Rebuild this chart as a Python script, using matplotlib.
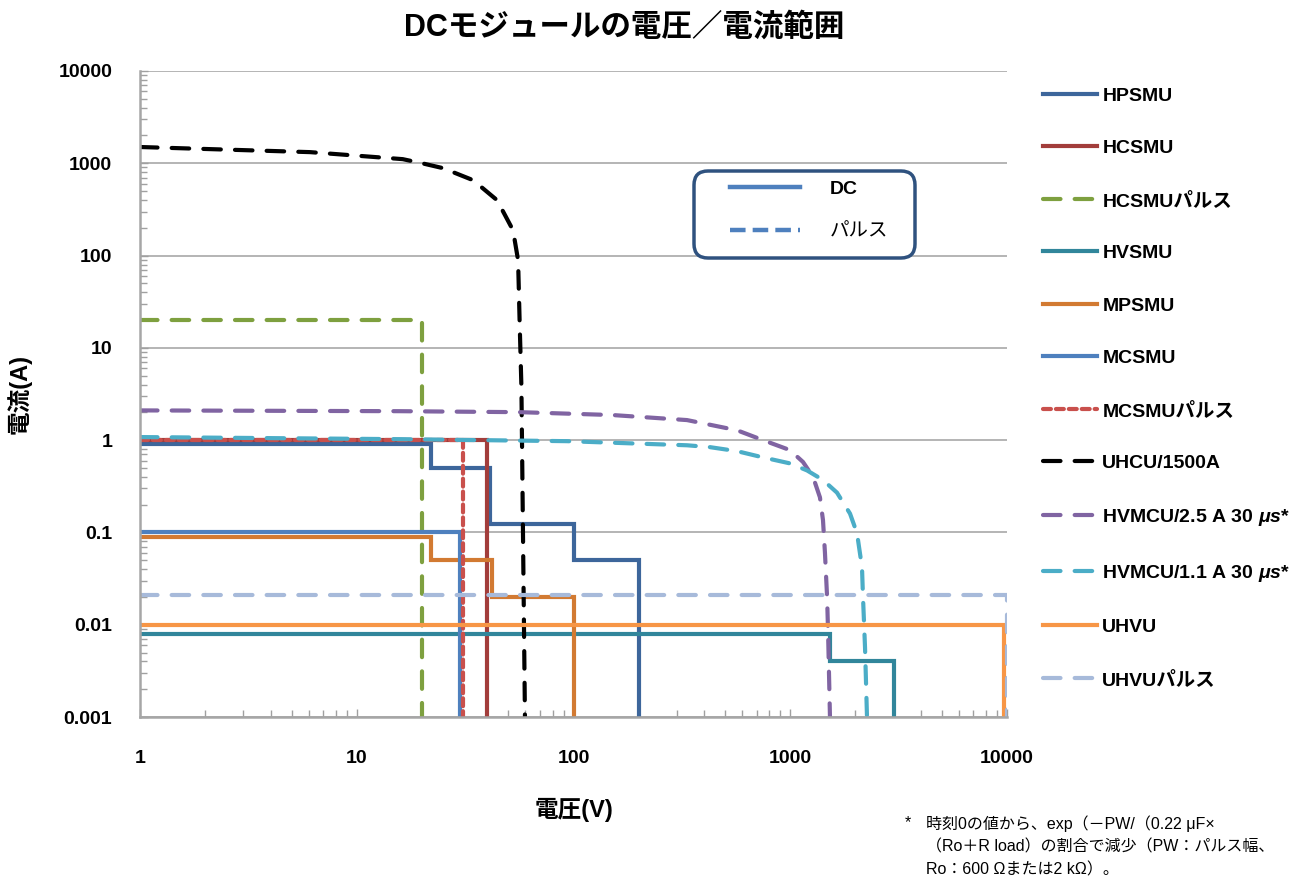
import matplotlib
matplotlib.use("Agg")
import matplotlib.pyplot as plt
from matplotlib.lines import Line2D
from matplotlib.patches import FancyBboxPatch
from matplotlib.transforms import IdentityTransform
from matplotlib.font_manager import FontProperties

FONTS = ['Liberation Sans', 'Noto Sans CJK JP']

plt.rcParams['font.family'] = FONTS
plt.rcParams['mathtext.fontset'] = 'custom'
plt.rcParams['mathtext.it'] = 'Liberation Sans:italic:bold'
plt.rcParams['mathtext.rm'] = 'Liberation Sans:bold'

I_FLOOR = 0.001

# staircase units: voltage break points and current level on each step
hpsmu_v = [1, 22, 41, 101, 200]
hpsmu_i = [0.9, 0.5, 0.125, 0.05]
hcsmu_v = [1, 40]
hcsmu_i = [1.0]
hcsmu_pulse_v = [1, 20]
hcsmu_pulse_i = [20]
hvsmu_v = [1, 1530, 3000]
hvsmu_i = [0.008, 0.004]
mpsmu_v = [1, 22, 42, 100]
mpsmu_i = [0.09, 0.05, 0.02]
mcsmu_v = [1, 30]
mcsmu_i = [0.1]
mcsmu_pulse_v = [1, 31]
mcsmu_pulse_i = [1.0]
uhvu_v = [1, 9700]
uhvu_i = [0.01]
uhvu_pulse_v = [1, 10000]
uhvu_pulse_i = [0.021]

# curved pulse ranges
uhcu_v = [1, 6.1, 16.3, 20, 25, 34.4, 44.4, 52.6, 55.5, 56.5, 57.5, 59.7]
uhcu_i = [1500, 1320, 1108, 1000, 885, 656, 398, 188, 89, 16.8, 3.75, 0.001]
hvmcu25_v = [1, 15.8, 56.6, 152, 334, 568, 749, 997, 1145, 1274, 1371, 1416,
             1446, 1479, 1495, 1525]
hvmcu25_i = [2.1, 2.06, 2.01, 1.87, 1.65, 1.28, 1.0, 0.78, 0.58, 0.40, 0.24,
             0.136, 0.06, 0.02, 0.0081, 0.001]
hvmcu11_v = [1, 15.8, 93.3, 334, 426, 568, 749, 997, 1195, 1416, 1643, 1887,
             2033, 2143, 2166, 2213, 2260]
hvmcu11_i = [1.08, 1.025, 0.975, 0.88, 0.84, 0.76, 0.65, 0.56, 0.47, 0.37,
             0.27, 0.16, 0.098, 0.042, 0.02, 0.0057, 0.001]

x_ticks = [1, 10, 100, 1000, 10000]
y_ticks = [0.001, 0.01, 0.1, 1, 10, 100, 1000, 10000]


def staircase(edges, levels):
    xs, ys = [edges[0]], [levels[0]]
    for k, lev in enumerate(levels):
        xs += [edges[k + 1], edges[k + 1]]
        nxt = levels[k + 1] if k + 1 < len(levels) else I_FLOOR
        ys += [lev, nxt]
    return xs, ys


DASH = (0, (4.2, 3.4))
DOT = (0, (1.9, 1.2))

series = [
    ('HPSMU', staircase(hpsmu_v, hpsmu_i), '#3D669B', '-'),
    ('HCSMU', staircase(hcsmu_v, hcsmu_i), '#A23D3B', '-'),
    ('HCSMUパルス', staircase(hcsmu_pulse_v, hcsmu_pulse_i), '#7EA03F', DASH),
    ('HVSMU', staircase(hvsmu_v, hvsmu_i), '#31869B', '-'),
    ('MPSMU', staircase(mpsmu_v, mpsmu_i), '#D27A32', '-'),
    ('MCSMU', staircase(mcsmu_v, mcsmu_i), '#4E80BE', '-'),
    ('MCSMUパルス', staircase(mcsmu_pulse_v, mcsmu_pulse_i), '#C9504C', DOT),
    ('UHCU/1500A', (uhcu_v, uhcu_i), '#000000', DASH),
    (r'HVMCU/2.5 A 30 $\mu s$*', (hvmcu25_v, hvmcu25_i), '#8064A2', DASH),
    (r'HVMCU/1.1 A 30 $\mu s$*', (hvmcu11_v, hvmcu11_i), '#4BADC7', DASH),
    ('UHVU', staircase(uhvu_v, uhvu_i), '#F79646', '-'),
    ('UHVUパルス', staircase(uhvu_pulse_v, uhvu_pulse_i), '#A7BADA', DASH),
]

fig = plt.figure(figsize=(12.99, 8.86), dpi=100)
ax = fig.add_axes([0.1078, 0.1907, 0.6674, 0.7292])

handles = []
for label, (xs, ys), color, ls in series:
    ln, = ax.plot(xs, ys, color=color, linestyle=ls, linewidth=3.0, label=label,
                  solid_joinstyle='miter', dash_capstyle='round')
    handles.append(ln)

ax.set_xscale('log')
ax.set_yscale('log')
ax.set_xlim(1, 10000)
ax.set_ylim(0.001, 10000)
ax.set_xticks(x_ticks)
ax.set_xticklabels([f'{v:g}' for v in x_ticks])
ax.set_yticks(y_ticks)
ax.set_yticklabels([f'{v:g}' for v in y_ticks])

ax.grid(axis='y', which='major', color='#A0A0A0', linewidth=1.1)
ax.grid(axis='x', visible=False)
ax.set_axisbelow(True)
for side in ['top', 'right']:
    ax.spines[side].set_visible(False)
for side in ['left', 'bottom']:
    ax.spines[side].set_color('#A6A6A6')
    ax.spines[side].set_linewidth(1.8)

ax.tick_params(which='both', direction='in', color='#A0A0A0', width=1.0)
ax.tick_params(which='major', length=6)
ax.tick_params(which='minor', length=5)
ax.tick_params(axis='y', which='major', pad=20, labelsize=14)
ax.tick_params(axis='x', which='major', pad=24, labelsize=14)
for t in ax.get_xticklabels() + ax.get_yticklabels():
    t.set_fontweight('bold')

fig.text(624 / 1299, 1 - 28 / 886, 'DCモジュールの電圧／電流範囲', fontsize=22,
         fontweight='bold', ha='center', va='center')
ax.set_xlabel('電圧(V)', fontsize=17, fontweight='bold', labelpad=22)
ax.set_ylabel('電流(A)', fontsize=17, fontweight='bold')
ax.yaxis.set_label_coords(-0.125, 0.5)

# series key on the right
leg = fig.legend(handles=handles, loc='upper left',
                 bbox_to_anchor=(1043 / 1299, 1 - 87 / 886),
                 prop=FontProperties(family=FONTS, weight='bold', size=14),
                 frameon=False, borderpad=0, handlelength=2.8,
                 handletextpad=0.25, labelspacing=1.79, borderaxespad=0)

# DC / pulse line-style key inside the plot
fig.add_artist(FancyBboxPatch((694, 886 - 258), 221, 87,
                              boxstyle='round,pad=0,rounding_size=14',
                              transform=IdentityTransform(), facecolor='white',
                              edgecolor='#2F527F', linewidth=2.5, zorder=4))
key = fig.legend(handles=[Line2D([], [], color='#4E80BE', lw=3.2),
                          Line2D([], [], color='#4E80BE', lw=3.2, ls=(0, (3.5, 1.6)))],
                 labels=['DC', 'パルス'], loc='upper left',
                 bbox_to_anchor=(730 / 1299, 1 - 180 / 886), borderpad=0,
                 borderaxespad=0, frameon=False,
                 prop=FontProperties(family=FONTS, size=14), handlelength=3.6,
                 handletextpad=1.55, labelspacing=1.31)
key.set_zorder(5)
key.get_texts()[0].set_fontweight('bold')

note = ('時刻0の値から、exp（－PW/（0.22 μF×\n'
        '（Ro＋R load）の割合で減少（PW：パルス幅、\n'
        'Ro：600 Ωまたは2 kΩ）。')
fig.text(905 / 1299, 1 - 815 / 886, '*', fontsize=11.5, va='top', ha='left')
fig.text(926 / 1299, 1 - 815 / 886, note, fontsize=11.5, va='top', ha='left',
         linespacing=1.62)

fig.savefig('out.png', dpi=100)
